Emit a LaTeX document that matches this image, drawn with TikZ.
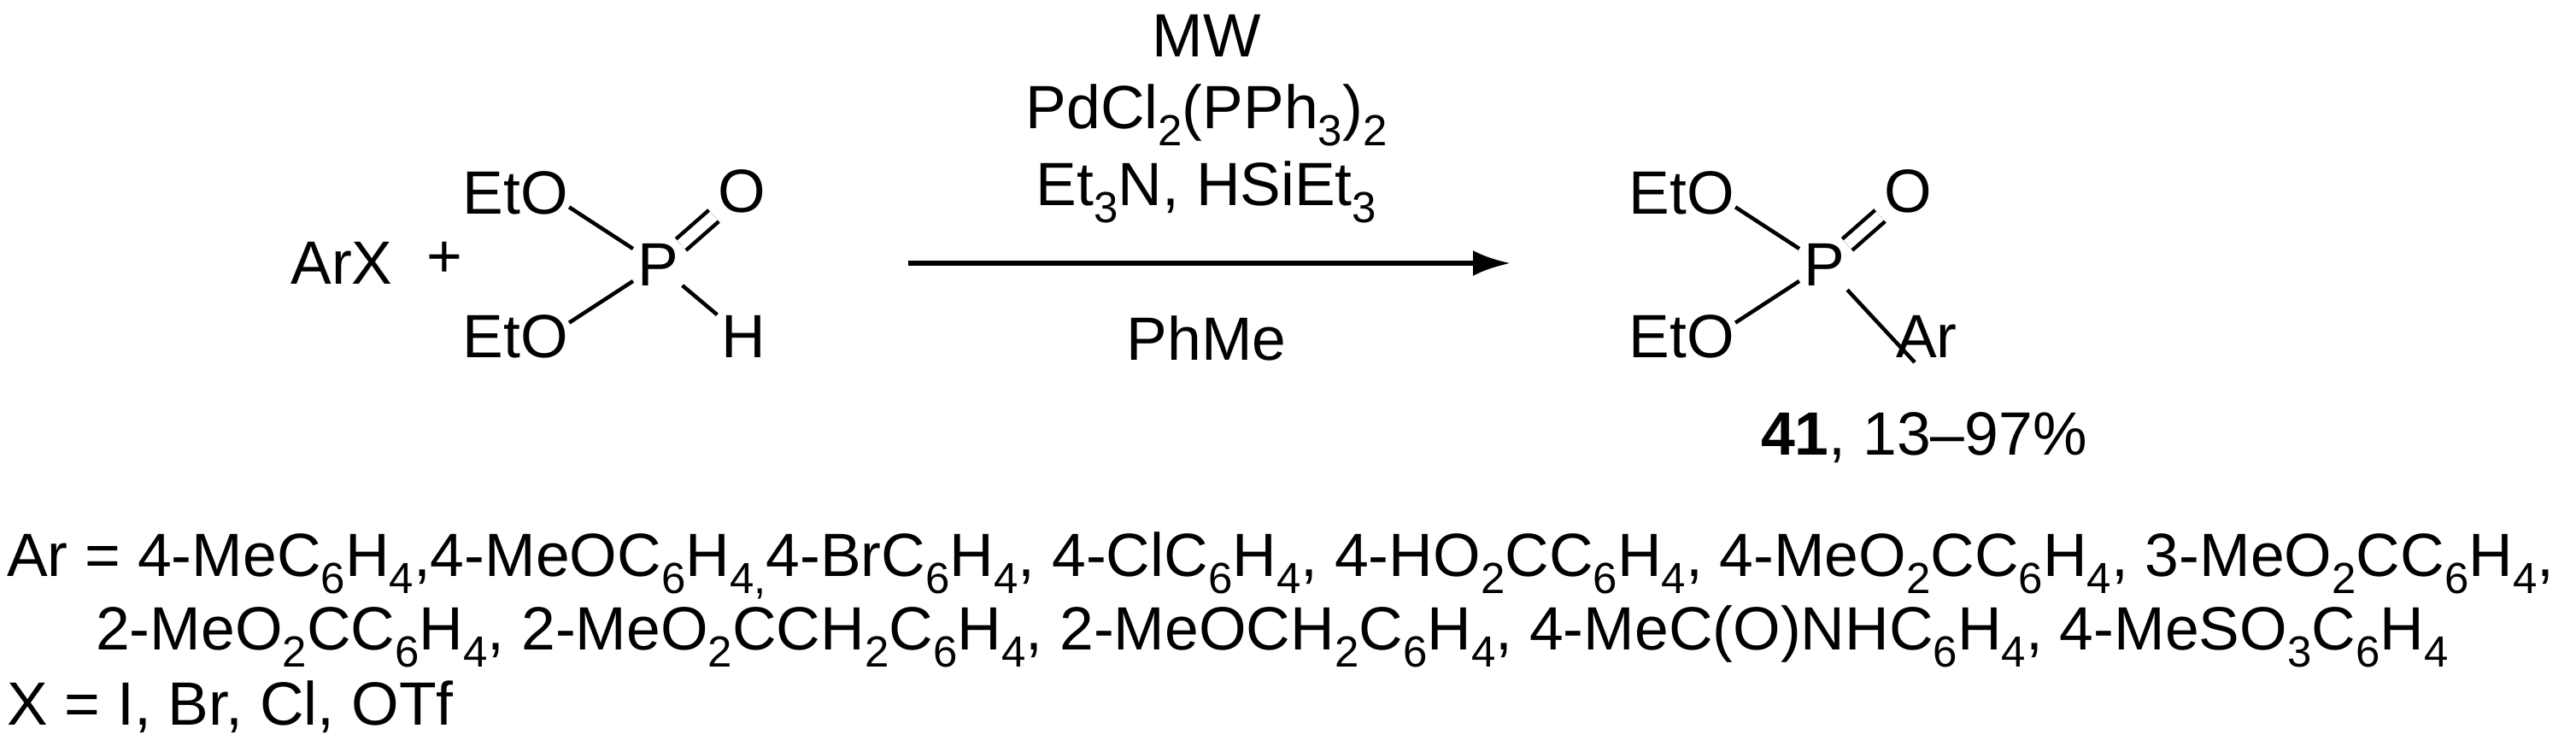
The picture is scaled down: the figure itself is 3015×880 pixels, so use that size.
\documentclass[tikz,border=0pt]{standalone}
\usepackage{fontspec}
\setmainfont{Liberation Sans}
\usetikzlibrary{arrows.meta}
\newcommand{\sbs}[1]{\raisebox{-0.28em}{\fontsize{51}{51}\selectfont #1}}
\begin{document}
\begin{tikzpicture}[x=1pt,y=-1pt,
  txt/.style={inner sep=0pt,font=\fontsize{71.5}{84}\selectfont},
  bond/.style={line width=4.5pt,shorten <=6pt,shorten >=6pt},
  obond/.style={line width=4.5pt,shorten <=30pt,shorten >=6pt},
  dbond/.style={draw=black,double=white,double distance=13pt,line width=4.5pt,shorten <=4pt,shorten >=6pt},
  rarrow/.style={line width=6pt,-{Latex[length=44pt,width=30pt]}}]
\useasboundingbox (0,0) rectangle (3015,880);
% reactant
\node[txt] (arx) at (400,308) {ArX};
\node[txt] (plus) at (520,304) {+};
\node[txt,anchor=east] (e1) at (665,226) {EtO};
\node[txt,anchor=east] (e2) at (665,394) {EtO};
\coordinate (e1o) at ([xshift=-24pt]e1.east);
\coordinate (e2o) at ([xshift=-24pt]e2.east);
\node[txt] (p1) at (770,310) {P};
\node[txt] (o1) at (868,224) {O};
\node[txt] (h1) at (870,394) {H};
\draw[obond] (e1o) -- (p1);
\draw[obond] (e2o) -- (p1);
\draw[dbond] (p1) -- (o1);
\draw[bond] (p1) -- (h1);
% arrow and conditions
\coordinate (as) at (1063,308);
\coordinate (ae) at (1768,308);
\draw[rarrow] (as) -- (ae);
\node[txt] (c1) at (1412,42) {MW};
\node[txt] (c2) at (1412,135) {PdCl\sbs{2}(PPh\sbs{3})\sbs{2}};
\node[txt] (c3) at (1412,225) {Et\sbs{3}N, HSiEt\sbs{3}};
\node[txt] (c4) at (1412,396) {PhMe};
% product
\node[txt,anchor=east] (e3) at (2030,226) {EtO};
\node[txt,anchor=east] (e4) at (2030,394) {EtO};
\coordinate (e3o) at ([xshift=-24pt]e3.east);
\coordinate (e4o) at ([xshift=-24pt]e4.east);
\node[txt] (p2) at (2135,310) {P};
\node[txt] (o2) at (2233,224) {O};
\node[txt] (ar) at (2255,394) {Ar};
\coordinate (arA) at ([shift={(-14pt,-30pt)}]ar.center);
\draw[obond] (e3o) -- (p2);
\draw[obond] (e4o) -- (p2);
\draw[dbond] (p2) -- (o2);
\draw[line width=4.5pt,shorten <=6pt] (p2) -- (arA);
\node[txt] (lab) at (2252,512) {\textbf{41}, 13--97\%};
% footnotes
\node[txt,anchor=base west] (l1) at (8,674) {Ar = 4-MeC\sbs{6}H\sbs{4},4-MeOC\sbs{6}H\sbs{4,}4-BrC\sbs{6}H\sbs{4}, 4-ClC\sbs{6}H\sbs{4}, 4-HO\sbs{2}CC\sbs{6}H\sbs{4}, 4-MeO\sbs{2}CC\sbs{6}H\sbs{4}, 3-MeO\sbs{2}CC\sbs{6}H\sbs{4},};
\node[txt,anchor=base west] (l2) at (112,760) {2-MeO\sbs{2}CC\sbs{6}H\sbs{4}, 2-MeO\sbs{2}CCH\sbs{2}C\sbs{6}H\sbs{4}, 2-MeOCH\sbs{2}C\sbs{6}H\sbs{4}, 4-MeC(O)NHC\sbs{6}H\sbs{4}, 4-MeSO\sbs{3}C\sbs{6}H\sbs{4}};
\node[txt,anchor=base west] (l3) at (8,848) {X = I, Br, Cl, OTf};
\end{tikzpicture}
\end{document}
